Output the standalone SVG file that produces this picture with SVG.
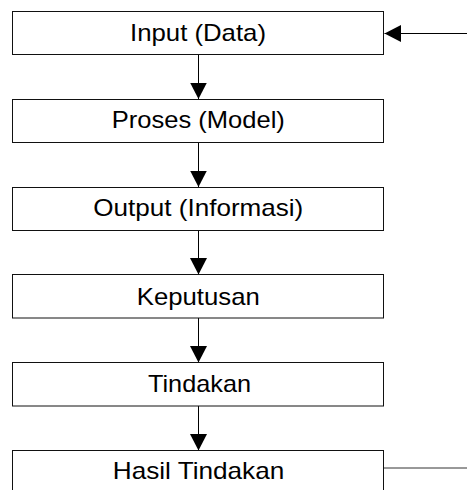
<svg xmlns="http://www.w3.org/2000/svg" width="467" height="490" viewBox="0 0 467 490">
<style>
.box{fill:#fff;stroke:#111;stroke-width:1}
.lbl{font-family:"Liberation Sans",Arial,sans-serif;font-size:24px;fill:#000;text-anchor:middle}
.conn{fill:none;stroke:#000;stroke-width:1}
</style>
<defs>
<marker id="ah" markerUnits="userSpaceOnUse" markerWidth="17" markerHeight="17" refX="16.5" refY="8.5" orient="auto">
<path d="M0,0 L16.5,8.5 L0,17 Z" fill="#000"/>
</marker>
</defs>
<rect width="467" height="490" fill="#fff"/>
<g id="connectors">
<line class="conn" x1="198.5" y1="54.5" x2="198.5" y2="99" marker-end="url(#ah)"/>
<line class="conn" x1="198.5" y1="142.5" x2="198.5" y2="187" marker-end="url(#ah)"/>
<line class="conn" x1="198.5" y1="230.5" x2="198.5" y2="274.5" marker-end="url(#ah)"/>
<line class="conn" x1="198.5" y1="318" x2="198.5" y2="362.5" marker-end="url(#ah)"/>
<line class="conn" x1="198.5" y1="406" x2="198.5" y2="450.5" marker-end="url(#ah)"/>
<line class="conn" x1="467" y1="33.5" x2="384.5" y2="33.5" marker-end="url(#ah)"/>
<line class="conn" x1="383.5" y1="468" x2="467" y2="468" style="stroke:#333"/>
</g>
<g id="n1">
<rect class="box" x="12.5" y="11.5" width="371" height="43"/>
<text class="lbl" x="198" y="41" textLength="136" lengthAdjust="spacingAndGlyphs">Input (Data)</text>
</g>
<g id="n2">
<rect class="box" x="12.5" y="99.5" width="371" height="43"/>
<text class="lbl" x="198.3" y="127.5" textLength="173" lengthAdjust="spacingAndGlyphs">Proses (Model)</text>
</g>
<g id="n3">
<rect class="box" x="12.5" y="187.5" width="371" height="43"/>
<text class="lbl" x="198.3" y="216" textLength="210" lengthAdjust="spacingAndGlyphs">Output (Informasi)</text>
</g>
<g id="n4">
<rect class="box" x="12.5" y="274.5" width="371" height="43.5"/>
<text class="lbl" x="198.3" y="304.5" textLength="123" lengthAdjust="spacingAndGlyphs">Keputusan</text>
</g>
<g id="n5">
<rect class="box" x="12.5" y="362.5" width="371" height="43.5"/>
<text class="lbl" x="199.5" y="392" textLength="103" lengthAdjust="spacingAndGlyphs">Tindakan</text>
</g>
<g id="n6">
<rect class="box" x="12.5" y="450.5" width="371" height="43.5"/>
<text class="lbl" x="198.5" y="479" textLength="171.5" lengthAdjust="spacingAndGlyphs">Hasil Tindakan</text>
</g>
</svg>
